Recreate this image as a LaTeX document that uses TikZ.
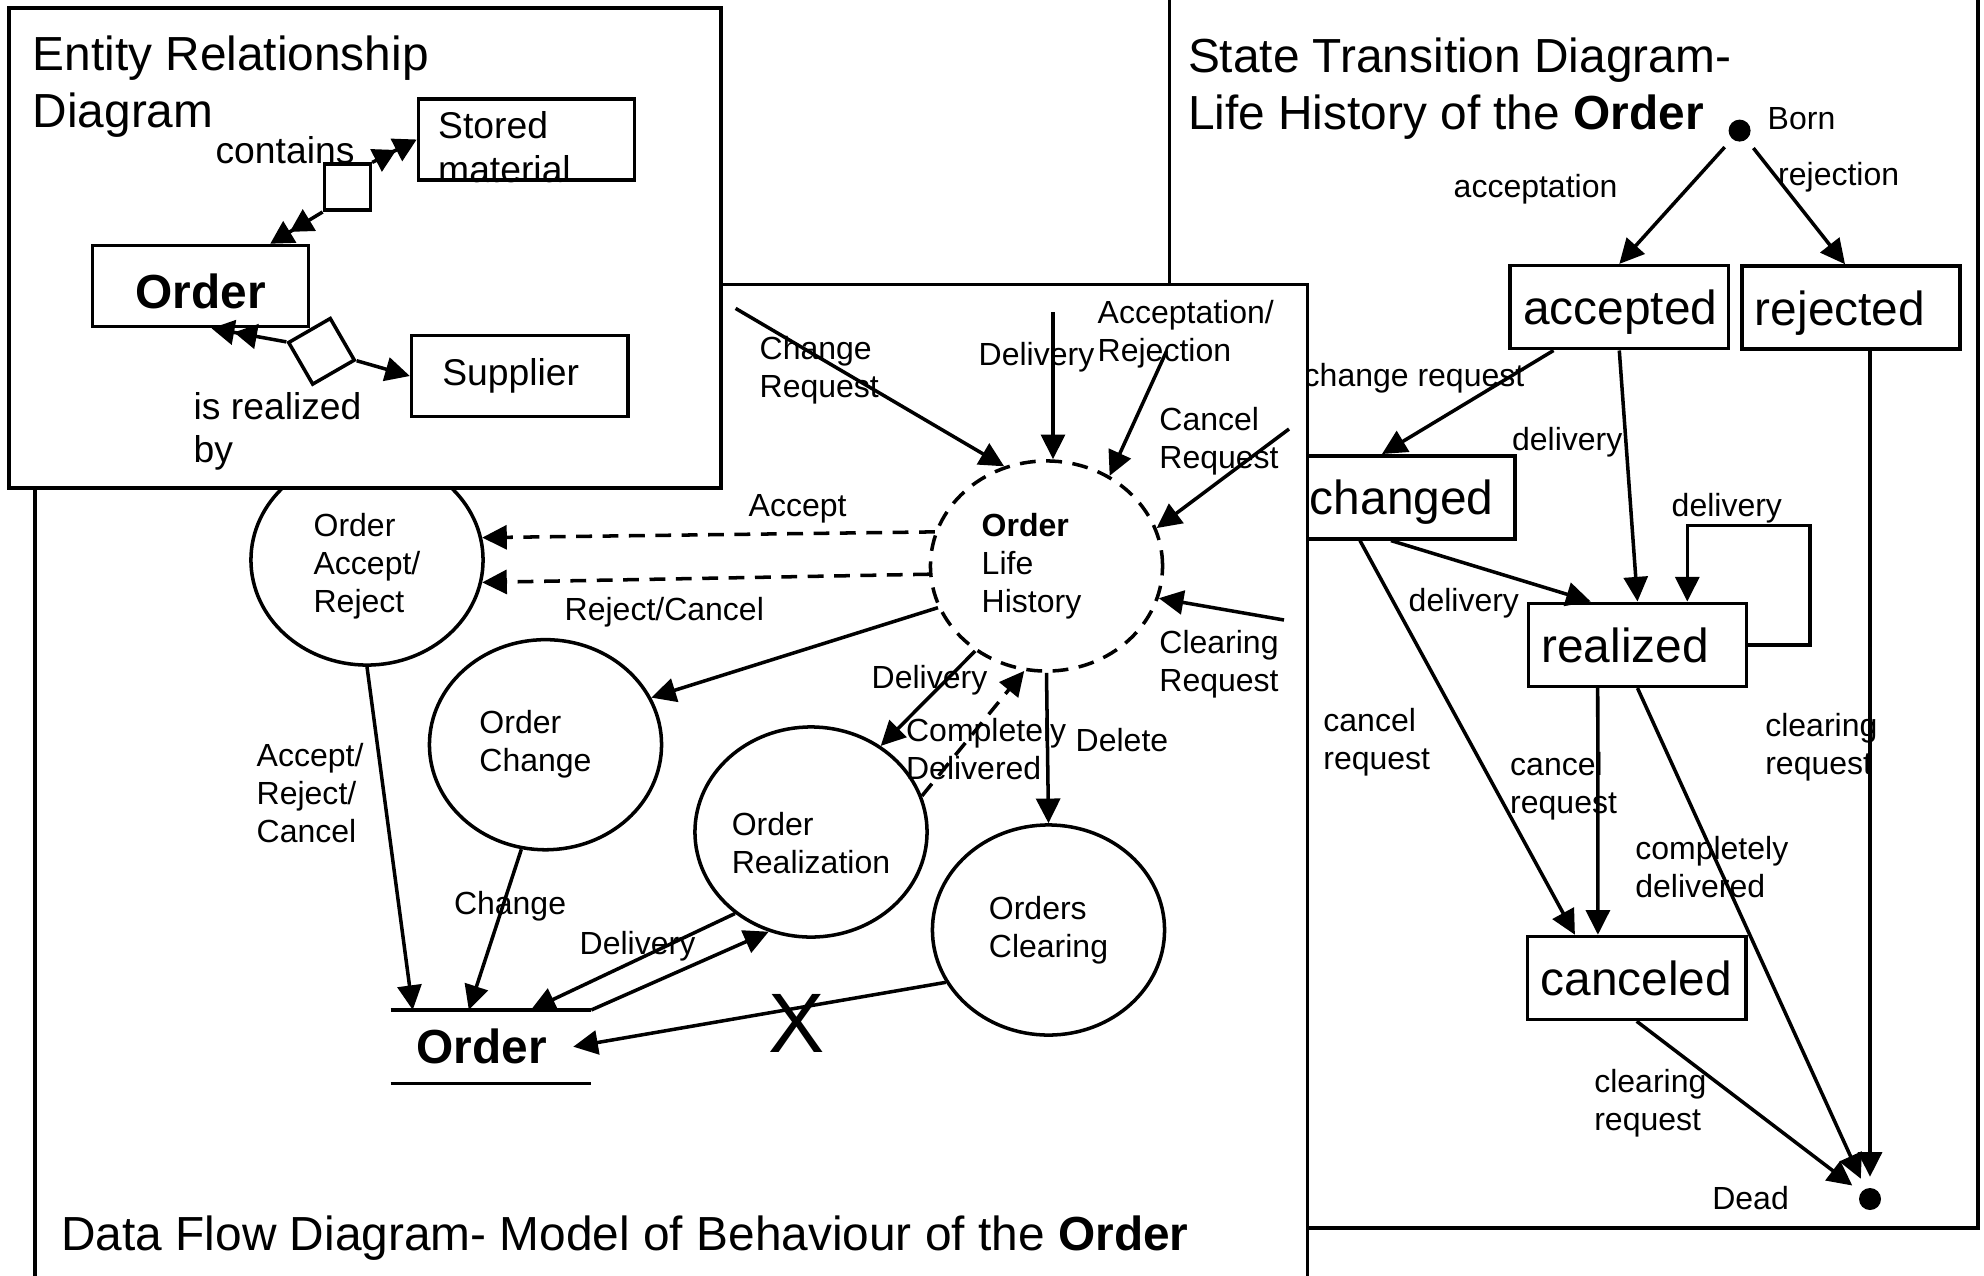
\documentclass[tikz,border=0pt]{standalone}
\usepackage{fontspec}
\setmainfont{Liberation Sans}
\usetikzlibrary{arrows.meta,shapes.geometric}
\newcommand{\bigtxt}{\fontsize{13.6}{16.1}\selectfont}
\newcommand{\midtxt}{\fontsize{10.6}{12.5}\selectfont}
\newcommand{\smalltxt}{\fontsize{9.1}{10.8}\selectfont}
\newcommand{\crosstxt}{\fontsize{24}{28}\selectfont}

\begin{document}
\begin{tikzpicture}[x=0.01cm,y=-0.01cm,>={Triangle[length=7pt,width=6.8pt]},
        panel/.style={draw,line width=1pt,fill=white},
        entity/.style={draw,line width=1pt,minimum width=2.16cm,minimum height=0.81cm,font=\midtxt},
        rel/.style={draw,line width=1pt,minimum size=0.46cm,inner sep=0pt},
        proc/.style={ellipse,draw,line width=1pt,minimum width=2.32cm,minimum height=2.1cm,inner sep=0pt,align=left,font=\smalltxt},
        store/.style={text width=1.49cm,inner xsep=0.25cm,minimum height=0.72cm,align=left,font=\bigtxt\bfseries},
        stbox/.style={draw,line width=1pt,minimum width=2.18cm,minimum height=0.83cm,text width=1.92cm,inner xsep=0.13cm,align=left,text height=0.35cm,text depth=0cm,font=\bigtxt},
        blob/.style={circle,fill,inner sep=0pt,minimum size=0.22cm},
        lbl/.style={anchor=north west,inner sep=0pt,align=left,font=\smalltxt},
        dsh/.style={dash pattern=on 4.5pt off 3pt},
        arr/.style={->,line width=1pt},
        many/.style={-{Triangle[length=6.5pt,width=7pt]Triangle[length=6.5pt,width=7pt]},line width=1pt}]
    \useasboundingbox (0,0) rectangle (1984,1275);

    \draw[line width=1pt] (1169.5,-10) rectangle (1978,1228);
    \node[lbl,font=\bigtxt] (stdtitle) at (1187.3,37.4) {State Transition Diagram-\\Life History of the \textbf{Order}};
    \node[blob] (born) at (1739.6,130.6) {};
    \node[stbox] (accepted) at (1619.3,307.2) {accepted};
    \node[stbox] (rejected) at (1851,307.5) {rejected};
    \node[stbox] (changed) at (1406,497.3) {changed};
    \node[stbox] (realized) at (1637.5,644.8) {realized};
    \node[stbox] (canceled) at (1636.7,978) {canceled};
    \node[blob] (dead) at (1870,1199) {};
    \coordinate (loop) at (1810,525.7);
    \draw[arr,shorten <=3pt] (born) -- (accepted.north);
    \draw[arr,shorten <=3pt] (born) -- ([xshift=-0.06cm]rejected.north);
    \draw[arr] ([xshift=0.45cm]accepted.south west) -- ([xshift=-0.24cm]changed.north);
    \draw[arr] (accepted.south) -- (realized.north);
    \draw[arr] ([xshift=-0.15cm]changed.south) -- ([xshift=0.64cm]realized.north west);
    \draw[arr] (realized.east) -| (loop) -| ([xshift=-0.61cm]realized.north east);
    \draw[arr] ([xshift=-0.46cm]changed.south) -- ([xshift=0.49cm]canceled.north west);
    \draw[arr] ([xshift=0.71cm]realized.south west) -- ([xshift=0.72cm]canceled.north west);
    \draw[arr,shorten >=3pt] (realized.south) -- (dead);
    \draw[arr,shorten >=3pt] (canceled.south) -- (dead);
    \draw[arr,shorten >=3pt] (dead |- rejected.south) -- (dead);
    \node[lbl] (lblborn) at (1767,107) {Born};
    \node[lbl] (lblaccn) at (1453,174) {acceptation};
    \node[lbl] (lblrejn) at (1777.5,162) {rejection};
    \node[lbl] (lblchreq) at (1303,362.6) {change request};
    \node[lbl] (lbldela) at (1511.4,427) {delivery};
    \node[lbl] (lbldell) at (1671,493) {delivery};
    \node[lbl] (lbldelc) at (1408,587.6) {delivery};
    \node[lbl] (lblcanl) at (1322.7,708) {cancel\\request};
    \node[lbl] (lblcanm) at (1509.5,752) {cancel\\request};
    \node[lbl] (lblclrr) at (1764.6,713) {clearing\\request};
    \node[lbl] (lblcomp) at (1634.6,836) {completely\\delivered};
    \node[lbl] (lblclrb) at (1593.6,1069) {clearing\\request};
    \node[lbl] (lbldead) at (1711.6,1186) {Dead};

    \draw[panel] (35,284.7) rectangle (1307.7,1300);
    \node[anchor=base west,inner sep=0pt,font=\bigtxt] (dfdtitle) at (60.7,1250) {Data Flow Diagram- Model of Behaviour of the \textbf{Order}};
    \node[proc,dsh] (olh) at (1046.5,566) {\textbf{Order}\\Life\\History\rule{0.3cm}{0pt}};
    \node[proc] (oar) at (367,560) {\rule{0pt}{0.35cm}Order\\Accept/\\Reject};
    \node[proc] (chg) at (545.5,744.7) {Order\\Change\rule{0.2cm}{0pt}};
    \node[proc] (real) at (811,832) {\rule{0pt}{0.45cm}Order\\Realization};
    \node[proc] (clr) at (1048.5,930) {Orders\\Clearing};
    \node[store] (store) at (491,1046.7) {Order};
    \draw[line width=1pt] (store.north west) -- (store.north east) (store.south west) -- (store.south east);
    \coordinate (chgsrc) at (735.6,308.4);
    \coordinate (delsrc) at (1053,312);
    \coordinate (accsrc) at (1166.6,351);
    \coordinate (cansrc) at (1289,429);
    \coordinate (clrsrc) at (1284,620);
    \draw[arr] (chgsrc) -- (olh.113.8);
    \draw[arr] (delsrc) -- (delsrc |- olh.north);
    \draw[arr] (accsrc) -- (olh.55);
    \draw[arr] (cansrc) -- (olh.19.7);
    \draw[arr] (clrsrc) -- (olh.-16);
    \draw[arr,dsh] (olh.163.9) -- (oar.11.1);
    \draw[arr,dsh] (olh.184.5) -- (oar.-11.7);
    \draw[arr] (olh.201.5) -- (chg.24.3);
    \draw[arr] (olh.230.2) -- (real.51.1);
    \draw[arr,dsh] (real.18) -- (olh.258.3);
    \draw[arr] (olh.south) -- (clr.north);
    \draw[arr] (oar.270) -- ([xshift=0.22cm]store.north west);
    \draw[arr] (chg.257.7) -- ([xshift=0.78cm]store.north west);
    \draw[arr] (real.227.1) -- ([xshift=1.4cm]store.north west);
    \draw[arr] (store.north east) -- (real.247.6);
    \draw[arr] (clr.207.7) -- node[pos=0.4,yshift=-0.15cm,font=\crosstxt] (cross) {X} ([xshift=-0.18cm]store.east);
    \node[lbl] (lblaccept) at (748,494) {Accept};
    \node[lbl] (lblrejcan) at (564,597) {Reject/Cancel};
    \node[lbl] (lblchgreq) at (759,336) {Change\\Request};
    \node[lbl] (lbldelin) at (978,341.5) {Delivery};
    \node[lbl] (lblaccrej) at (1097,300) {Acceptation/\\Rejection};
    \node[lbl] (lblcanreq) at (1158.7,406.6) {Cancel\\Request};
    \node[lbl] (lblclrreq) at (1158.7,629.4) {Clearing\\Request};
    \node[lbl] (lbldelout) at (871,665) {Delivery};
    \node[lbl] (lblcompl) at (905.4,717.5) {Completely\\Delivered};
    \node[lbl] (lbldelete) at (1075,728) {Delete};
    \node[lbl] (lblarc) at (256,743) {Accept/\\Reject/\\Cancel};
    \node[lbl] (lblchange) at (453.3,891) {Change};
    \node[lbl] (lbldelst) at (579,931) {Delivery};

    \draw[panel] (9,8) rectangle (721,488);
    \node[lbl,font=\bigtxt] (ertitle) at (32,35.5) {Entity Relationship\\Diagram};
    \node[entity,font=\bigtxt\bfseries] (erorder) at (200.5,286) {\rule{0pt}{0.46cm}Order};
    \node[entity] (stored) at (526.5,139.5) {};
    \node[lbl,font=\midtxt] (storedtxt) at (437.5,111) {Stored\\material};
    \node[entity] (supplier) at (519.7,376) {Supplier\rule{0.18cm}{0pt}};
    \node[rel] (relc) at (347.4,187.2) {};
    \node[rel,minimum size=0.48cm,rotate=30] (relr) at (321.5,351.3) {};
    \draw[many] (relc.north east) -- (stored.west);
    \draw[many] (relc.south west) -- (erorder);
    \draw[many] (relr.north west) -- ([xshift=0.11cm]erorder.south);
    \draw[arr] (relr.south east) -- (supplier.west);
    \node[font=\midtxt] (lblcontains) at (285,150) {contains};
    \node[lbl,font=\midtxt] (lblrealby) at (193,391.3) {is realized\\by};
\end{tikzpicture}
\end{document}
